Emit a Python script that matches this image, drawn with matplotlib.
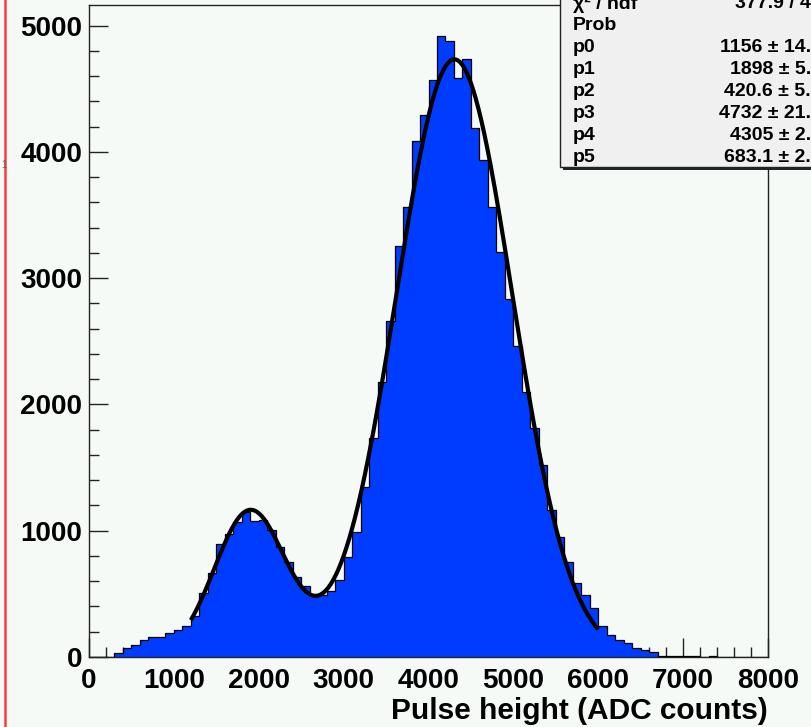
import numpy as np
import matplotlib
matplotlib.use("Agg")
import matplotlib.pyplot as plt
from matplotlib.patches import Rectangle
from matplotlib.ticker import MultipleLocator

plt.rcParams['font.family'] = ['Liberation Sans', 'DejaVu Sans']

# ---- data -------------------------------------------------------------
bin_edges = np.arange(0, 8001, 100)
counts = [0, 0, 0, 29, 69, 95, 132, 156, 158, 193,
          214, 245, 325, 509, 662, 895, 970, 1071, 1151, 1080,
          1085, 1005, 870, 755, 633, 560, 487, 487, 520, 610,
          794, 990, 1345, 1735, 2178, 2663, 3254, 3562, 4088, 4291,
          4568, 4920, 4877, 4582, 4735, 4191, 3935, 3565, 3209, 2834,
          2462, 2101, 1811, 1520, 1164, 950, 755, 589, 491, 385,
          245, 174, 135, 108, 74, 55, 37, 10, 10, 5,
          5, 5, 0, 8, 0, 0, 0, 0, 0, 0]

# fit parameters (double gaussian) as shown in stats box
fit_params = [1156, 1898, 420.6, 4732, 4305, 683.1]
fit_range = (1200, 6000)

x_ticks = [0, 1000, 2000, 3000, 4000, 5000, 6000, 7000, 8000]
y_ticks = [0, 1000, 2000, 3000, 4000, 5000]

stat_labels = ["\u03c7\u00b2 / ndf", "Prob", "p0", "p1", "p2", "p3", "p4", "p5"]
stat_values = ["377.9 / 4", "", "1156 \u00b1 14.", "1898 \u00b1 5.",
               "420.6 \u00b1 5.", "4732 \u00b1 21.", "4305 \u00b1 2.", "683.1 \u00b1 2."]

# ---- figure -----------------------------------------------------------
W, H = 811, 727
bg = '#f6faf7'
fig = plt.figure(figsize=(W / 100, H / 100), dpi=100, facecolor=bg)

ax_l, ax_r, ax_t, ax_b = 89, 768, 5, 657
ax = fig.add_axes([ax_l / W, 1 - ax_b / H, (ax_r - ax_l) / W, (ax_b - ax_t) / H])
ax.set_facecolor(bg)

blue = '#003cff'
ax.stairs(counts, bin_edges, fill=True, color=blue, zorder=2)
ax.stairs(counts, bin_edges, color='black', lw=0.9, zorder=3)

p = fit_params
xf = np.linspace(fit_range[0], fit_range[1], 600)
yf = p[0] * np.exp(-0.5 * ((xf - p[1]) / p[2]) ** 2) + p[3] * np.exp(-0.5 * ((xf - p[4]) / p[5]) ** 2)
ax.plot(xf, yf, color='black', lw=3.0, zorder=4, solid_capstyle='butt')

ax.set_xlim(0, 8000)
ax.set_ylim(0, (ax_b - ax_t) / 0.1263)

ax.set_xticks(x_ticks)
ax.set_yticks(y_ticks)
ax.xaxis.set_minor_locator(MultipleLocator(200))
ax.yaxis.set_minor_locator(MultipleLocator(200))
ax.tick_params(which='both', direction='in', top=False, right=False, color='#222222', width=1.0)
ax.tick_params(which='major', length=14)
ax.tick_params(which='minor', length=7)
ax.tick_params(axis='x', which='major', pad=8)
ax.tick_params(axis='y', which='major', pad=5)
for lab in ax.get_xticklabels() + ax.get_yticklabels():
    lab.set_fontsize(20)
    lab.set_fontweight('bold')
for s in ax.spines.values():
    s.set_color('#222222')
    s.set_linewidth(1.0)

ax.text(1.0, -(711 - ax_b) / (ax_b - ax_t), 'Pulse height (ADC counts)', transform=ax.transAxes,
        ha='right', va='center', fontsize=21.5, fontweight='bold')

# ---- overlay (pixel coordinates) for stats box and decorations ---------
ov = fig.add_axes([0, 0, 1, 1], zorder=10)
ov.set_xlim(0, W)
ov.set_ylim(H, 0)
ov.axis('off')
ov.patch.set_alpha(0)

# red frame line at left edge
ov.plot([5, 5], [0, H], color='#ff3b3b', lw=1.8)
ov.text(1, 165, '1', fontsize=7, color='#666666', ha='left', va='center')

# stats box with shadow
ov.add_patch(Rectangle((563, -10), 260, 180, facecolor='#222222', edgecolor='none'))
ov.add_patch(Rectangle((560, -10), 260, 177, facecolor='#f0f0f0', edgecolor='#222222', lw=1.0))
row_y = [4, 25, 48, 70, 92, 113, 135, 157]
for lab, val, yy in zip(stat_labels, stat_values, row_y):
    ov.text(573, yy, lab, fontsize=14, fontweight='bold', ha='left', va='center')
    if val:
        ov.text(811, yy, val, fontsize=14, fontweight='bold', ha='right', va='center')

fig.savefig('out.png', dpi=100, facecolor=bg)
